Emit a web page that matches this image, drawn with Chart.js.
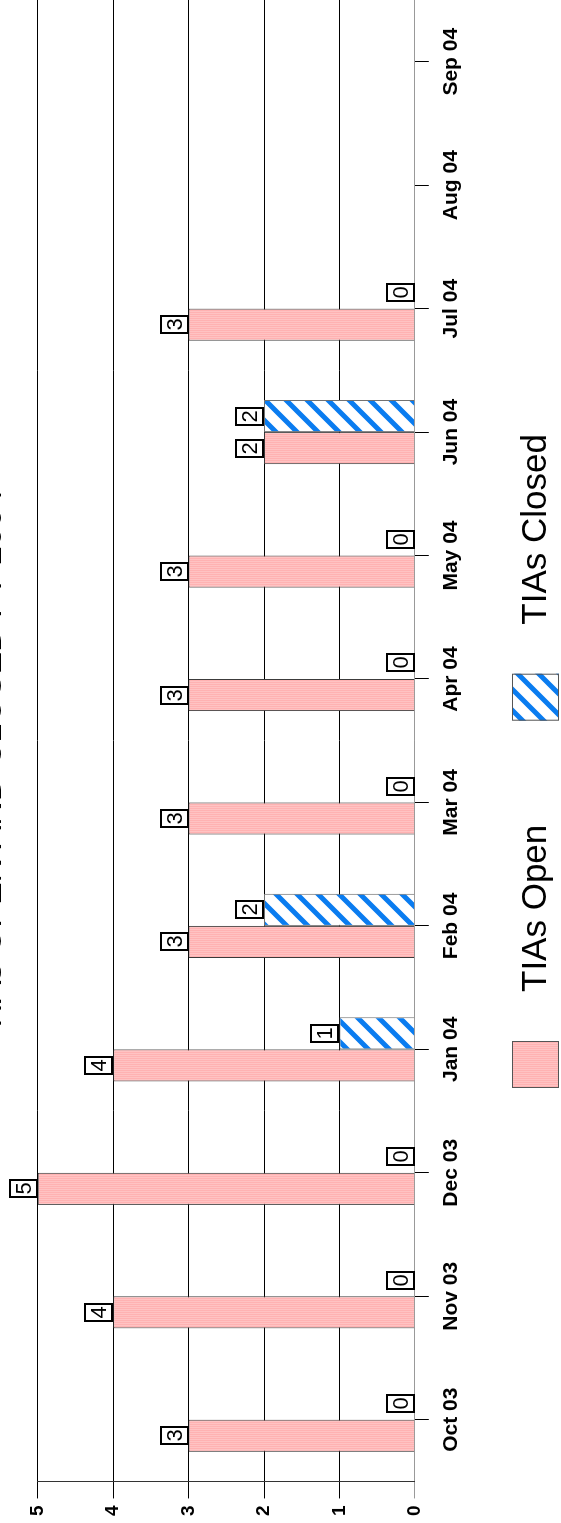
<!DOCTYPE html>
<html>
<head>
<meta charset="utf-8">
<script src="https://cdn.jsdelivr.net/npm/chart.js@4.4.0/dist/chart.umd.min.js"></script>
<style>
    html, body { margin: 0; padding: 0; background: #fff; overflow: hidden; width: 561px; height: 1523px; }
    /* the chart is drawn landscape and turned a quarter turn, like the scanned page */
    #wrap { position: absolute; left: 0; top: 0; width: 1523px; height: 601px;
            transform-origin: 0 0; transform: translate(-40px, 1523px) rotate(-90deg); }
</style>
</head>
<body>
<div id="wrap"><canvas id="myChart" width="1523" height="601"></canvas></div>
<script>
const months = ['Oct 03', 'Nov 03', 'Dec 03', 'Jan 04', 'Feb 04', 'Mar 04',
                'Apr 04', 'May 04', 'Jun 04', 'Jul 04', 'Aug 04', 'Sep 04'];
const tiasOpen = [3, 4, 5, 4, 3, 3, 3, 3, 2, 3, null, null];
const tiasClosed = [0, 0, 0, 1, 2, 0, 0, 0, 2, 0, null, null];
const valueMax = 5;
const chartTitle = 'TIAs OPEN AND CLOSED FY 2004';

const FONT = 'Arial, "Liberation Sans", sans-serif';
Chart.defaults.font.family = FONT;
Chart.defaults.color = '#000';

function pinkFill(ctx) {
    const c = document.createElement('canvas');
    c.width = 2; c.height = 1;
    const g = c.getContext('2d');
    g.fillStyle = '#FFB2B2'; g.fillRect(0, 0, 1, 1);
    g.fillStyle = '#FFC3C3'; g.fillRect(1, 0, 1, 1);
    return ctx.createPattern(c, 'repeat');
}

function stripeFill(ctx) {
    const s = 21;
    const c = document.createElement('canvas');
    c.width = s; c.height = s;
    const g = c.getContext('2d');
    g.fillStyle = '#fff'; g.fillRect(0, 0, s, s);
    g.strokeStyle = '#0A7CF0';
    g.lineWidth = 5;
    g.beginPath();
    g.moveTo(-s / 2, s / 2); g.lineTo(s / 2, -s / 2);
    g.moveTo(0, s); g.lineTo(s, 0);
    g.moveTo(s / 2, s * 1.5); g.lineTo(s * 1.5, s / 2);
    g.stroke();
    return ctx.createPattern(c, 'repeat');
}

// boxed value label sitting on the end of each bar
const valueBoxes = {
    id: 'valueBoxes',
    afterDatasetsDraw(chart) {
        const ctx = chart.ctx;
        ctx.save();
        ctx.font = '22px ' + FONT;
        ctx.textAlign = 'center';
        ctx.textBaseline = 'middle';
        chart.data.datasets.forEach((ds, i) => {
            chart.getDatasetMeta(i).data.forEach((bar, j) => {
                const v = ds.data[j];
                if (v === null || v === undefined) return;
                const w = 19, h = 29;
                const x = Math.round(bar.x - w / 2);
                const y = Math.round(bar.y - h);
                ctx.fillStyle = '#fff';
                ctx.fillRect(x, y, w, h);
                ctx.lineWidth = 2;
                ctx.strokeStyle = '#000';
                ctx.strokeRect(x + 1, y + 1, w - 2, h - 2);
                ctx.fillStyle = '#000';
                ctx.fillText(String(v), x + w / 2, y + h / 2 + 1);
            });
        });
        ctx.restore();
    }
};

// big legend along the bottom edge
const bottomLegend = {
    id: 'bottomLegend',
    afterDraw(chart) {
        const ctx = chart.ctx;
        const box = 47, gapText = 49, gapItem = 104;
        ctx.save();
        ctx.font = '35px ' + FONT;
        const items = chart.data.datasets.map(ds => ({
            label: ds.label,
            fill: ds.backgroundColor,
            w: ctx.measureText(ds.label).width
        }));
        const total = items.reduce((s, it) => s + box + gapText + it.w, 0) + gapItem * (items.length - 1);
        let x = Math.round((chart.width - total) / 2);
        const top = chart.height - 49;
        items.forEach(it => {
            ctx.fillStyle = it.fill;
            ctx.fillRect(x, top, box, box);
            ctx.strokeStyle = '#555';
            ctx.lineWidth = 1;
            ctx.strokeRect(x + 0.5, top + 0.5, box - 1, box - 1);
            ctx.fillStyle = '#000';
            ctx.textBaseline = 'middle';
            ctx.fillText(it.label, x + box + gapText, top + box / 2 + 1);
            x += box + gapText + it.w + gapItem;
        });
        ctx.restore();
    }
};

const ctx = document.getElementById('myChart').getContext('2d');

new Chart(ctx, {
    type: 'bar',
    data: {
        labels: months,
        datasets: [
            {
                label: 'TIAs Open',
                data: tiasOpen,
                backgroundColor: pinkFill(ctx),
                borderColor: '#3a3a3a',
                borderWidth: 1
            },
            {
                label: 'TIAs Closed',
                data: tiasClosed,
                backgroundColor: stripeFill(ctx),
                borderColor: '#707070',
                borderWidth: 1
            }
        ]
    },
    options: {
        responsive: false,
        animation: false,
        events: [],
        categoryPercentage: 0.52,
        barPercentage: 1,
        layout: { padding: { left: 0, right: 0, top: 0, bottom: 87 } },
        plugins: {
            legend: { display: false },
            tooltip: { enabled: false },
            title: {
                display: true,
                text: chartTitle,
                font: { size: 34, weight: 'normal' },
                padding: { top: 11, bottom: 26 }
            }
        },
        scales: {
            x: {
                offset: true,
                grid: {
                    offset: false,
                    drawOnChartArea: false,
                    tickLength: 14,
                    color: '#000'
                },
                border: { color: '#999' },
                ticks: {
                    font: { size: 21, weight: 'bold' },
                    padding: 10,
                    maxRotation: 0
                }
            },
            y: {
                min: 0,
                max: valueMax,
                ticks: {
                    stepSize: 1,
                    font: { size: 19, weight: 'bold' },
                    padding: 7
                },
                grid: {
                    tickLength: 17,
                    color: c => (c.tick && c.tick.value === 0 ? '#999' : '#000')
                },
                border: { color: '#333' }
            }
        }
    },
    plugins: [valueBoxes, bottomLegend]
});
</script>
</body>
</html>
